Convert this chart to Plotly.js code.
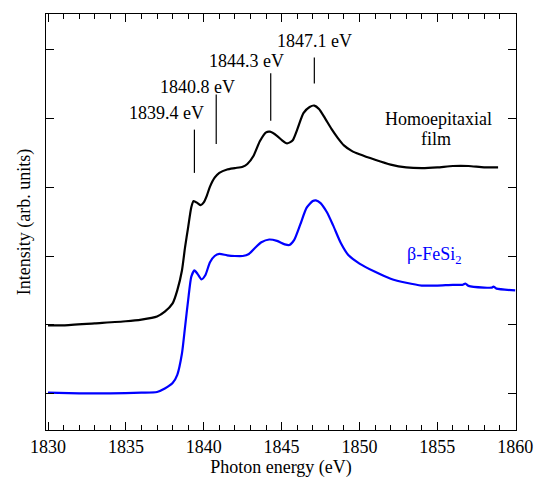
<!DOCTYPE html>
<html>
<head>
<meta charset="utf-8">
<script src="https://cdn.plot.ly/plotly-3.0.1.min.js"></script>
<style>
html,body{margin:0;padding:0;background:#fff;}
#chart{width:536px;height:481px;}
#chart svg text{font-family:"Liberation Serif","Times New Roman",serif !important;}
</style>
</head>
<body>
<div id="chart"></div>
<script>
// Homoepitaxial film spectrum (offset, arb. units)
const homoEnergy = [1830.0,1831,1833,1835,1836,1837,1837.5,1838,1838.3,1838.6,1838.8,1839.0,1839.2,1839.35,1839.6,1839.8,1840.0,1840.2,1840.4,1840.7,1841.0,1841.5,1842,1842.5,1842.8,1843.2,1843.6,1844.0,1844.25,1844.7,1845.0,1845.35,1845.7,1846.0,1846.4,1846.8,1847.1,1847.4,1847.8,1848.2,1848.6,1849.0,1849.5,1850,1851,1852,1853,1854,1855,1856,1857,1858,1858.9];
const homoIntensity = [0.99,0.99,1.02,1.05,1.075,1.12,1.19,1.31,1.50,1.79,2.13,2.42,2.71,2.80,2.77,2.74,2.78,2.88,3.01,3.14,3.21,3.26,3.28,3.30,3.34,3.46,3.67,3.80,3.81,3.75,3.69,3.64,3.68,3.84,4.08,4.17,4.19,4.14,4.00,3.85,3.72,3.61,3.53,3.48,3.40,3.33,3.29,3.28,3.29,3.31,3.31,3.29,3.29];

// beta-FeSi2 reference spectrum
const fesiEnergy = [1830,1832,1834,1836,1837,1837.5,1838.0,1838.3,1838.6,1838.8,1839.0,1839.2,1839.4,1839.6,1839.85,1840.1,1840.4,1840.7,1841.0,1841.5,1842,1842.5,1842.9,1843.3,1843.7,1844.2,1844.7,1845.2,1845.5,1845.8,1846.2,1846.6,1847.0,1847.2,1847.5,1847.9,1848.3,1848.8,1849.3,1850,1851,1852,1853,1854,1855,1856,1856.6,1856.8,1857,1858,1858.5,1858.6,1858.8,1860];
const fesiIntensity = [0.01,0.0,0.0,0.01,0.02,0.07,0.15,0.27,0.58,0.97,1.36,1.70,1.79,1.74,1.66,1.72,1.91,2.00,2.03,2.01,2.00,2.00,2.03,2.12,2.20,2.24,2.22,2.17,2.16,2.23,2.46,2.70,2.80,2.81,2.77,2.64,2.45,2.19,2.01,1.89,1.77,1.67,1.61,1.57,1.57,1.58,1.58,1.60,1.565,1.54,1.54,1.555,1.525,1.50];

// Peak markers
const peakEnergy = [1839.4, 1840.8, 1844.3, 1847.1];
const peakLabels = ['1839.4 eV', '1840.8 eV', '1844.3 eV', '1847.1 eV'];
const markerBottom = [3.21, 3.63, 3.97, 4.51];
const markerTop = [3.84, 4.35, 4.66, 4.89];

const xTicks = [1830, 1835, 1840, 1845, 1850, 1855, 1860];
const yTicks = [0, 1, 2, 3, 4, 5];

const FONT = '"Liberation Serif", "Times New Roman", serif';

const traces = [
  {x: homoEnergy, y: homoIntensity, mode: 'lines', line: {color: '#000000', width: 2.2, shape: 'spline', smoothing: 0.6}, hoverinfo: 'skip'},
  {x: fesiEnergy, y: fesiIntensity, mode: 'lines', line: {color: '#0000ff', width: 2.2, shape: 'spline', smoothing: 0.6}, hoverinfo: 'skip'}
];

const shapes = peakEnergy.map((e, i) => ({
  type: 'line', xref: 'x', yref: 'y', x0: e, x1: e, y0: markerBottom[i], y1: markerTop[i],
  line: {color: '#000', width: 1.2}
}));

const labelPos = [[1837.6, 4.08], [1839.57, 4.46], [1842.75, 4.84], [1847.14, 5.13]];
const annotations = peakLabels.map((t, i) => ({
  x: labelPos[i][0], y: labelPos[i][1], xref: 'x', yref: 'y', text: t, showarrow: false,
  xanchor: 'center', yanchor: 'middle', font: {family: FONT, size: 18, color: '#000'}
}));
annotations.push({x: 1855.06, y: 4.0, xref: 'x', yref: 'y', text: 'Homoepitaxial', showarrow: false, xanchor: 'center', yanchor: 'middle', font: {family: FONT, size: 18, color: '#000'}});
annotations.push({x: 1854.9, y: 3.70, xref: 'x', yref: 'y', text: 'film', showarrow: false, xanchor: 'center', yanchor: 'middle', font: {family: FONT, size: 18, color: '#000'}});
annotations.push({x: 1854.8, y: 2.01, xref: 'x', yref: 'y', text: 'β-FeSi<sub>2</sub>', showarrow: false, xanchor: 'center', yanchor: 'middle', font: {family: FONT, size: 18, color: '#0000ff'}});

const layout = {
  width: 536, height: 481,
  margin: {l: 46, r: 19.5, t: 13.5, b: 51, pad: 0},
  paper_bgcolor: '#fff', plot_bgcolor: '#fff',
  showlegend: false,
  font: {family: FONT, size: 18, color: '#000'},
  xaxis: {
    range: [1829.87, 1860.05], tickvals: xTicks, ticks: 'inside', ticklen: 8, tickwidth: 1, tickcolor: '#000',
    showline: true, linecolor: '#000', linewidth: 1, mirror: 'ticks', showgrid: false, zeroline: false,
    minor: {dtick: 1, ticks: 'inside', ticklen: 5, tickwidth: 1, tickcolor: '#000', showgrid: false},
    tickfont: {family: FONT, size: 18, color: '#000'},
    title: {text: 'Photon energy (eV)', font: {family: FONT, size: 18, color: '#000'}, standoff: 4}
  },
  yaxis: {
    range: [-0.533, 5.523], tickvals: yTicks, ticks: 'inside', ticklen: 8, tickwidth: 1, tickcolor: '#000',
    showticklabels: false, showline: true, linecolor: '#000', linewidth: 1, mirror: 'ticks', showgrid: false, zeroline: false,
    title: {text: 'Intensity (arb. units)', font: {family: FONT, size: 18, color: '#000'}, standoff: 9}
  },
  shapes: shapes,
  annotations: annotations
};

Plotly.newPlot('chart', traces, layout, {staticPlot: true, displayModeBar: false});
</script>
</body>
</html>
